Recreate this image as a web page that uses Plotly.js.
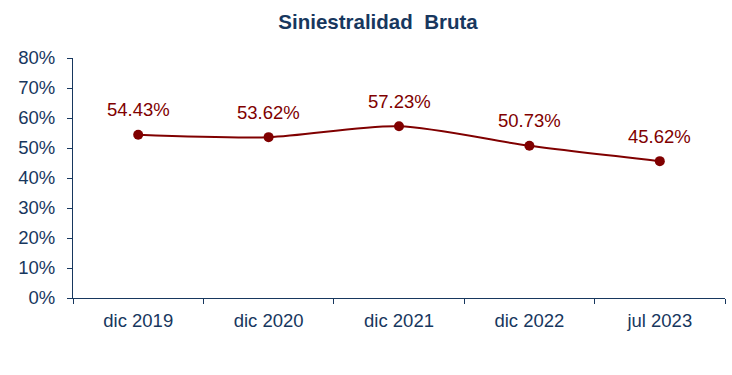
<!DOCTYPE html>
<html>
<head>
<meta charset="utf-8">
<script src="https://cdn.plot.ly/plotly-3.0.1.min.js"></script>
<style>html,body{margin:0;padding:0;background:#fff;}#chart{width:732px;height:375px;}</style>
</head>
<body>
<div id="chart"></div>
<script>
const categories = ["dic 2019", "dic 2020", "dic 2021", "dic 2022", "jul 2023"];
const values = [54.43, 53.62, 57.23, 50.73, 45.62];
const labels = ["54.43%", "53.62%", "57.23%", "50.73%", "45.62%"];
const yTickVals = [0, 10, 20, 30, 40, 50, 60, 70, 80];
const yTickText = ["0%", "10%", "20%", "30%", "40%", "50%", "60%", "70%", "80%"];

const navy = "#17375E";
const red = "#800000";
const font = "Liberation Sans, Arial, sans-serif";

const trace = {
  x: categories,
  y: values,
  type: "scatter",
  mode: "lines+markers",
  line: {color: red, width: 2, shape: "spline", smoothing: 0.8},
  marker: {color: red, size: 10},
  hoverinfo: "skip"
};

const annotations = categories.map((c, i) => ({
  x: c, y: values[i], xref: "x", yref: "y",
  text: labels[i], showarrow: false, yshift: 25,
  font: {family: font, size: 18.5, color: red}
}));

const layout = {
  width: 732, height: 375,
  margin: {l: 73, r: 7, t: 58, b: 77},
  paper_bgcolor: "#fff", plot_bgcolor: "#fff",
  showlegend: false,
  title: {
    text: "<b>Siniestralidad  Bruta</b>",
    x: 378/732, xref: "container", xanchor: "center",
    y: 1 - 22/375, yref: "container", yanchor: "middle",
    font: {family: font, size: 20.5, color: navy}
  },
  xaxis: {
    type: "category",
    range: [-0.5, 4.5],
    showline: true, linecolor: navy, linewidth: 1,
    ticks: "outside", tickson: "boundaries", ticklen: 5, tickcolor: navy,
    ticklabelstandoff: 6,
    showgrid: false, zeroline: false,
    tickfont: {family: font, size: 18.5, color: navy}
  },
  yaxis: {
    range: [0, 80],
    tickvals: yTickVals, ticktext: yTickText,
    showline: true, linecolor: navy, linewidth: 1,
    ticks: "outside", ticklen: 5, tickcolor: navy,
    ticklabelstandoff: 8,
    showgrid: false, zeroline: false,
    tickfont: {family: font, size: 18.5, color: navy}
  },
  annotations: annotations
};

Plotly.newPlot("chart", [trace], layout, {displayModeBar: false, staticPlot: true});
</script>
</body>
</html>
